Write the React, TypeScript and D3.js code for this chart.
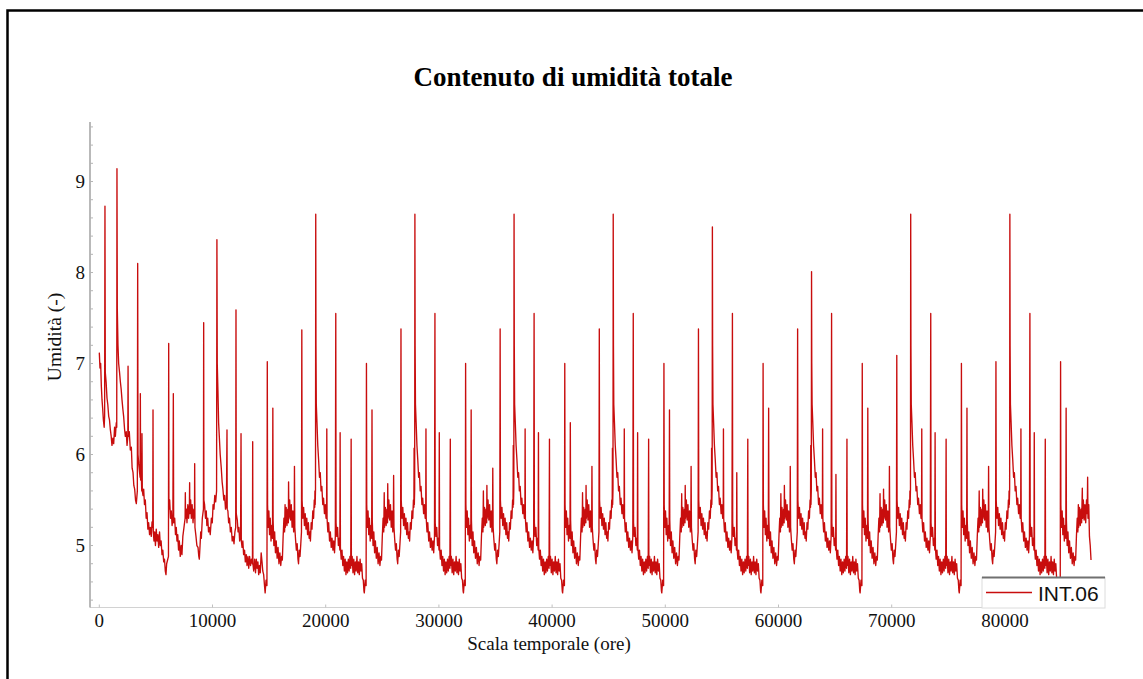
import React, { useMemo } from "react";
import * as d3 from "d3";

// ---- axis ticks ----
const xTickValues = [0, 10000, 20000, 30000, 40000, 50000, 60000, 70000, 80000];
const yTickValues = [5, 6, 7, 8, 9];

// ---- hour at which each yearly cycle begins (seasonal minimum) ----
const yearStarts = [14650, 23410, 32170, 40930, 49690, 58450, 67210, 75970, 84730];

// ---- initial drying stretch, absolute hours ----
const firstStretch: [number, number][] = [
  [0, 7.12], [60, 6.95], [120, 7.0], [180, 6.75], [240, 6.6], [300, 6.5], [360, 6.38], [430, 6.3], [470, 6.42], [500, 8.73],
  [530, 6.9], [600, 6.8], [680, 6.62], [750, 6.55], [830, 6.42], [900, 6.38], [970, 6.28], [1050, 6.2], [1120, 6.1], [1200, 6.18],
  [1270, 6.12], [1350, 6.3], [1420, 6.2], [1500, 6.35], [1540, 6.3], [1560, 9.14], [1590, 7.6], [1650, 7.2], [1710, 7.0], [1790, 6.9],
  [1860, 6.8], [1930, 6.72], [2005, 6.6], [2080, 6.5], [2150, 6.42], [2230, 6.28], [2300, 6.2], [2380, 6.25], [2450, 6.1], [2520, 6.2],
  [2540, 6.97], [2565, 6.2], [2650, 6.25], [2740, 6.05], [2830, 6.08], [2900, 5.85], [2980, 5.8], [3050, 5.66], [3125, 5.62], [3200, 5.5],
  [3270, 5.46], [3360, 5.6], [3390, 8.1], [3420, 6.0], [3480, 5.9], [3600, 5.75], [3625, 6.67], [3650, 5.72], [3715, 5.76], [3750, 5.6],
  [3770, 6.23], [3800, 5.6], [3860, 5.55], [3920, 5.62], [3990, 5.45], [4065, 5.5], [4140, 5.3], [4215, 5.36], [4290, 5.18], [4360, 5.25],
  [4440, 5.12], [4510, 5.2], [4590, 5.1], [4660, 5.26], [4720, 5.2], [4745, 6.49], [4770, 5.15], [4830, 5.05], [4890, 5.15], [4960, 5.0],
  [5030, 5.18], [5100, 5.05], [5170, 5.12], [5245, 4.98], [5320, 5.15], [5390, 5.0], [5460, 5.05], [5540, 4.9], [5610, 4.95], [5690, 4.82],
  [5760, 4.85], [5830, 4.72], [5890, 4.68], [5950, 4.8], [6110, 4.88], [6130, 7.22], [6150, 5.4], [6215, 5.5], [6290, 5.3], [6360, 5.38],
  [6430, 5.22], [6500, 5.3], [6540, 6.67], [6570, 5.25], [6660, 5.3], [6730, 5.12], [6800, 5.2], [6860, 5.05], [6930, 5.12], [7000, 4.95],
  [7070, 5.05], [7150, 4.88], [7230, 5.0], [7300, 4.9], [7380, 5.1], [7480, 5.2], [7580, 5.3], [7600, 5.58], [7620, 5.3], [7690, 5.4],
  [7745, 5.25], [7820, 5.45], [7890, 5.3], [7960, 5.45], [7980, 5.69], [8000, 5.35], [8070, 5.5], [8130, 5.3], [8200, 5.45], [8280, 5.25],
  [8350, 5.4], [8410, 5.3], [8425, 5.9], [8450, 5.2], [8540, 5.1], [8620, 5.0], [8720, 4.98], [8790, 4.88], [8835, 4.85], [8900, 5.0],
  [8960, 5.15], [9015, 5.08], [9100, 5.3], [9200, 5.4], [9220, 7.45], [9240, 5.5], [9300, 5.45], [9380, 5.3], [9450, 5.38], [9500, 5.22],
  [9580, 5.3], [9650, 5.15], [9720, 5.2], [9800, 5.12], [9900, 5.3], [9980, 5.25], [10050, 5.45], [10130, 5.4], [10200, 5.55], [10280, 5.48],
  [10360, 5.6], [10390, 8.36], [10420, 7.0], [10480, 6.7], [10540, 6.35], [10600, 6.2], [10680, 6.0], [10775, 5.85], [10850, 5.7], [10920, 5.62],
  [11000, 5.5], [11070, 5.55], [11150, 5.4], [11230, 5.45], [11280, 6.27], [11300, 5.4], [11360, 5.38], [11425, 5.25], [11500, 5.3], [11580, 5.15],
  [11660, 5.2], [11740, 5.05], [11820, 5.1], [11900, 5.02], [11980, 5.15], [12050, 5.2], [12075, 7.59], [12100, 5.35], [12190, 5.28], [12260, 5.15],
  [12330, 5.2], [12400, 5.05], [12480, 5.12], [12520, 6.23], [12545, 5.05], [12610, 4.98], [12680, 5.05], [12750, 4.9], [12830, 4.95], [12900, 4.82],
  [12980, 4.9], [13050, 4.78], [13130, 4.88], [13200, 4.75], [13280, 4.88], [13360, 4.78], [13440, 4.85], [13530, 4.8], [13550, 6.14], [13570, 4.8],
  [13640, 4.72], [13725, 4.85], [13800, 4.7], [13870, 4.85], [13940, 4.75], [14010, 4.82], [14080, 4.68], [14150, 4.78], [14220, 4.7], [14300, 4.92],
  [14375, 4.82], [14440, 4.72], [14520, 4.68], [14600, 4.55],
];

// ---- yearly cycles: [hours since cycle start, moisture] ----
const year1: [number, number][] = [
  [0, 4.48], [80, 4.62], [160, 4.56], [190, 7.02], [215, 5.45], [270, 5.2], [330, 5.38], [390, 5.12], [450, 5.3], [520, 5.05], [590, 5.22], [650, 5.08], [680, 6.51], [705, 5.28], [770, 5.0], [840, 5.15], [910, 4.92], [980, 5.05], [1060, 4.86], [1140, 4.98], [1220, 4.8], [1300, 4.92], [1380, 4.78], [1450, 4.88], [1520, 4.84], [1590, 5.1], [1660, 5.3], [1720, 5.15], [1760, 5.45], [1790, 5.2], [1860, 5.42], [1930, 5.22], [2000, 5.4], [2050, 5.25], [2070, 5.7], [2100, 5.3], [2170, 5.5], [2240, 5.28], [2310, 5.45], [2380, 5.2], [2450, 5.38], [2520, 5.15], [2570, 5.3], [2590, 5.87], [2620, 5.2], [2690, 5.06], [2760, 4.95], [2830, 5.02], [2900, 4.85], [2950, 4.8], [3010, 4.95], [3080, 4.88], [3150, 5.02], [3210, 5.15], [3240, 7.37], [3265, 5.5], [3330, 5.3], [3400, 5.42], [3470, 5.22], [3540, 5.35], [3610, 5.18], [3680, 5.3], [3750, 5.12], [3820, 5.25], [3890, 5.08], [3960, 5.15], [4000, 5.05], [4070, 5.25], [4140, 5.18], [4210, 5.38], [4280, 5.3], [4340, 5.5], [4380, 5.42], [4400, 5.6], [4420, 5.45], [4450, 5.62], [4470, 8.64], [4490, 7.2], [4520, 6.55], [4580, 6.35], [4650, 6.1], [4720, 5.95], [4800, 5.75], [4870, 5.8], [4940, 5.6], [5010, 5.65], [5090, 5.45], [5160, 5.52], [5240, 5.35], [5310, 5.45], [5380, 5.3], [5430, 5.42], [5447, 6.28], [5470, 5.3], [5540, 5.15], [5610, 5.25], [5690, 5.05], [5760, 5.15], [5840, 4.98], [5910, 5.08], [5990, 4.95], [6060, 5.05], [6130, 4.92], [6200, 5.1], [6240, 7.55], [6265, 5.25], [6330, 5.1], [6400, 5.2], [6470, 5.0], [6540, 5.08], [6600, 4.95], [6625, 6.24], [6650, 4.98], [6720, 4.85], [6790, 4.95], [6860, 4.78], [6930, 4.88], [7000, 4.72], [7070, 4.85], [7140, 4.68], [7210, 4.82], [7280, 4.7], [7350, 4.85], [7420, 4.72], [7490, 4.88], [7560, 4.75], [7598, 6.17], [7620, 4.78], [7690, 4.88], [7760, 4.7], [7830, 4.85], [7900, 4.68], [7970, 4.82], [8040, 4.72], [8110, 4.88], [8180, 4.7], [8250, 4.82], [8320, 4.68], [8390, 4.85], [8460, 4.72], [8530, 4.8], [8600, 4.64], [8670, 4.62], [8730, 4.5],
];
const year2: [number, number][] = [
  [0, 4.48], [80, 4.62], [160, 4.56], [190, 7.0], [215, 5.45], [270, 5.2], [330, 5.38], [390, 5.12], [450, 5.3], [520, 5.05], [590, 5.22], [650, 5.08], [680, 6.49], [705, 5.28], [770, 5.0], [840, 5.15], [910, 4.92], [980, 5.05], [1060, 4.86], [1140, 4.98], [1220, 4.8], [1300, 4.92], [1380, 4.78], [1450, 4.88], [1520, 4.84], [1590, 5.1], [1660, 5.3], [1720, 5.15], [1760, 5.58], [1790, 5.2], [1860, 5.42], [1930, 5.22], [2000, 5.4], [2050, 5.25], [2070, 5.68], [2100, 5.3], [2170, 5.5], [2240, 5.28], [2310, 5.45], [2380, 5.2], [2450, 5.38], [2520, 5.15], [2570, 5.3], [2590, 5.77], [2620, 5.2], [2690, 5.06], [2760, 4.95], [2830, 5.02], [2900, 4.85], [2950, 4.8], [3010, 4.95], [3080, 4.88], [3150, 5.02], [3210, 5.15], [3240, 7.38], [3265, 5.5], [3330, 5.3], [3400, 5.42], [3470, 5.22], [3540, 5.35], [3610, 5.18], [3680, 5.3], [3750, 5.12], [3820, 5.25], [3890, 5.08], [3960, 5.15], [4000, 5.05], [4070, 5.25], [4140, 5.18], [4210, 5.38], [4280, 5.3], [4340, 5.5], [4380, 5.42], [4400, 6.07], [4420, 5.45], [4450, 5.62], [4470, 8.64], [4490, 7.2], [4520, 6.55], [4580, 6.35], [4650, 6.1], [4720, 5.95], [4800, 5.75], [4870, 5.8], [4940, 5.6], [5010, 5.65], [5090, 5.45], [5160, 5.52], [5240, 5.35], [5310, 5.45], [5380, 5.3], [5430, 5.42], [5447, 6.28], [5470, 5.3], [5540, 5.15], [5610, 5.25], [5690, 5.05], [5760, 5.15], [5840, 4.98], [5910, 5.08], [5990, 4.95], [6060, 5.05], [6130, 4.92], [6200, 5.1], [6240, 7.55], [6265, 5.25], [6330, 5.1], [6400, 5.2], [6470, 5.0], [6540, 5.08], [6600, 4.95], [6625, 6.24], [6650, 4.98], [6720, 4.85], [6790, 4.95], [6860, 4.78], [6930, 4.88], [7000, 4.72], [7070, 4.85], [7140, 4.68], [7210, 4.82], [7280, 4.7], [7350, 4.85], [7420, 4.72], [7490, 4.88], [7560, 4.75], [7598, 6.17], [7620, 4.78], [7690, 4.88], [7760, 4.7], [7830, 4.85], [7900, 4.68], [7970, 4.82], [8040, 4.72], [8110, 4.88], [8180, 4.7], [8250, 4.82], [8320, 4.68], [8390, 4.85], [8460, 4.72], [8530, 4.8], [8600, 4.64], [8670, 4.62], [8730, 4.5],
];
const year3: [number, number][] = [
  [0, 4.48], [80, 4.62], [160, 4.56], [190, 7.0], [215, 5.45], [270, 5.2], [330, 5.38], [390, 5.12], [450, 5.3], [520, 5.05], [590, 5.22], [650, 5.08], [680, 6.49], [705, 5.28], [770, 5.0], [840, 5.15], [910, 4.92], [980, 5.05], [1060, 4.86], [1140, 4.98], [1220, 4.8], [1300, 4.92], [1380, 4.78], [1450, 4.88], [1520, 4.84], [1590, 5.1], [1660, 5.3], [1720, 5.15], [1760, 5.6], [1790, 5.2], [1860, 5.42], [1930, 5.22], [2000, 5.4], [2050, 5.25], [2070, 5.66], [2100, 5.3], [2170, 5.5], [2240, 5.28], [2310, 5.45], [2380, 5.2], [2450, 5.38], [2520, 5.15], [2570, 5.3], [2590, 5.85], [2620, 5.2], [2690, 5.06], [2760, 4.95], [2830, 5.02], [2900, 4.85], [2950, 4.8], [3010, 4.95], [3080, 4.88], [3150, 5.02], [3210, 5.15], [3240, 7.38], [3265, 5.5], [3330, 5.3], [3400, 5.42], [3470, 5.22], [3540, 5.35], [3610, 5.18], [3680, 5.3], [3750, 5.12], [3820, 5.25], [3890, 5.08], [3960, 5.15], [4000, 5.05], [4070, 5.25], [4140, 5.18], [4210, 5.38], [4280, 5.3], [4340, 5.5], [4380, 5.42], [4400, 6.1], [4420, 5.45], [4450, 5.62], [4470, 8.64], [4490, 7.2], [4520, 6.55], [4580, 6.35], [4650, 6.1], [4720, 5.95], [4800, 5.75], [4870, 5.8], [4940, 5.6], [5010, 5.65], [5090, 5.45], [5160, 5.52], [5240, 5.35], [5310, 5.45], [5380, 5.3], [5430, 5.42], [5447, 6.28], [5470, 5.3], [5540, 5.15], [5610, 5.25], [5690, 5.05], [5760, 5.15], [5840, 4.98], [5910, 5.08], [5990, 4.95], [6060, 5.05], [6130, 4.92], [6200, 5.1], [6240, 7.55], [6265, 5.25], [6330, 5.1], [6400, 5.2], [6470, 5.0], [6540, 5.08], [6600, 4.95], [6625, 6.24], [6650, 4.98], [6720, 4.85], [6790, 4.95], [6860, 4.78], [6930, 4.88], [7000, 4.72], [7070, 4.85], [7140, 4.68], [7210, 4.82], [7280, 4.7], [7350, 4.85], [7420, 4.72], [7490, 4.88], [7560, 4.75], [7598, 6.17], [7620, 4.78], [7690, 4.88], [7760, 4.7], [7830, 4.85], [7900, 4.68], [7970, 4.82], [8040, 4.72], [8110, 4.88], [8180, 4.7], [8250, 4.82], [8320, 4.68], [8390, 4.85], [8460, 4.72], [8530, 4.8], [8600, 4.64], [8670, 4.62], [8730, 4.5],
];
const year4: [number, number][] = [
  [0, 4.48], [80, 4.62], [160, 4.56], [190, 7.0], [215, 5.45], [270, 5.2], [330, 5.38], [390, 5.12], [450, 5.3], [520, 5.05], [590, 5.22], [650, 5.08], [680, 6.35], [705, 5.28], [770, 5.0], [840, 5.15], [910, 4.92], [980, 5.05], [1060, 4.86], [1140, 4.98], [1220, 4.8], [1300, 4.92], [1380, 4.78], [1450, 4.88], [1520, 4.84], [1590, 5.1], [1660, 5.3], [1720, 5.15], [1760, 5.58], [1790, 5.2], [1860, 5.42], [1930, 5.22], [2000, 5.4], [2050, 5.25], [2070, 5.66], [2100, 5.3], [2170, 5.5], [2240, 5.28], [2310, 5.45], [2380, 5.2], [2450, 5.38], [2520, 5.15], [2570, 5.3], [2590, 5.87], [2620, 5.2], [2690, 5.06], [2760, 4.95], [2830, 5.02], [2900, 4.85], [2950, 4.8], [3010, 4.95], [3080, 4.88], [3150, 5.02], [3210, 5.15], [3240, 7.38], [3265, 5.5], [3330, 5.3], [3400, 5.42], [3470, 5.22], [3540, 5.35], [3610, 5.18], [3680, 5.3], [3750, 5.12], [3820, 5.25], [3890, 5.08], [3960, 5.15], [4000, 5.05], [4070, 5.25], [4140, 5.18], [4210, 5.38], [4280, 5.3], [4340, 5.5], [4380, 5.42], [4400, 6.07], [4420, 5.45], [4450, 5.62], [4470, 8.64], [4490, 7.2], [4520, 6.55], [4580, 6.35], [4650, 6.1], [4720, 5.95], [4800, 5.75], [4870, 5.8], [4940, 5.6], [5010, 5.65], [5090, 5.45], [5160, 5.52], [5240, 5.35], [5310, 5.45], [5380, 5.3], [5430, 5.42], [5447, 6.28], [5470, 5.3], [5540, 5.15], [5610, 5.25], [5690, 5.05], [5760, 5.15], [5840, 4.98], [5910, 5.08], [5990, 4.95], [6060, 5.05], [6130, 4.92], [6200, 5.1], [6240, 7.55], [6265, 5.25], [6330, 5.1], [6400, 5.2], [6470, 5.0], [6540, 5.08], [6600, 4.95], [6625, 6.24], [6650, 4.98], [6720, 4.85], [6790, 4.95], [6860, 4.78], [6930, 4.88], [7000, 4.72], [7070, 4.85], [7140, 4.68], [7210, 4.82], [7280, 4.7], [7350, 4.85], [7420, 4.72], [7490, 4.88], [7560, 4.75], [7598, 6.17], [7620, 4.78], [7690, 4.88], [7760, 4.7], [7830, 4.85], [7900, 4.68], [7970, 4.82], [8040, 4.72], [8110, 4.88], [8180, 4.7], [8250, 4.82], [8320, 4.68], [8390, 4.85], [8460, 4.72], [8530, 4.8], [8600, 4.64], [8670, 4.62], [8730, 4.5],
];
const year5: [number, number][] = [
  [0, 4.48], [80, 4.62], [160, 4.56], [190, 7.0], [215, 5.45], [270, 5.2], [330, 5.38], [390, 5.12], [450, 5.3], [520, 5.05], [590, 5.22], [650, 5.08], [680, 6.49], [705, 5.28], [770, 5.0], [840, 5.15], [910, 4.92], [980, 5.05], [1060, 4.86], [1140, 4.98], [1220, 4.8], [1300, 4.92], [1380, 4.78], [1450, 4.88], [1520, 4.84], [1590, 5.1], [1660, 5.3], [1720, 5.15], [1760, 5.57], [1790, 5.2], [1860, 5.42], [1930, 5.22], [2000, 5.4], [2050, 5.25], [2070, 5.66], [2100, 5.3], [2170, 5.5], [2240, 5.28], [2310, 5.45], [2380, 5.2], [2450, 5.38], [2520, 5.15], [2570, 5.3], [2590, 5.87], [2620, 5.2], [2690, 5.06], [2760, 4.95], [2830, 5.02], [2900, 4.85], [2950, 4.8], [3010, 4.95], [3080, 4.88], [3150, 5.02], [3210, 5.15], [3240, 7.38], [3265, 5.5], [3330, 5.3], [3400, 5.42], [3470, 5.22], [3540, 5.35], [3610, 5.18], [3680, 5.3], [3750, 5.12], [3820, 5.25], [3890, 5.08], [3960, 5.15], [4000, 5.05], [4070, 5.25], [4140, 5.18], [4210, 5.38], [4280, 5.3], [4340, 5.5], [4380, 5.42], [4400, 6.07], [4420, 5.45], [4450, 5.62], [4470, 8.5], [4490, 7.2], [4520, 6.55], [4580, 6.35], [4650, 6.1], [4720, 5.95], [4800, 5.75], [4870, 5.8], [4940, 5.6], [5010, 5.65], [5090, 5.45], [5160, 5.52], [5240, 5.35], [5310, 5.45], [5380, 5.3], [5430, 5.42], [5447, 6.28], [5470, 5.3], [5540, 5.15], [5610, 5.25], [5690, 5.05], [5760, 5.15], [5840, 4.98], [5910, 5.08], [5990, 4.95], [6060, 5.05], [6130, 4.92], [6200, 5.1], [6240, 7.55], [6265, 5.25], [6330, 5.1], [6400, 5.2], [6470, 5.0], [6540, 5.08], [6600, 4.95], [6625, 5.8], [6650, 4.98], [6720, 4.85], [6790, 4.95], [6860, 4.78], [6930, 4.88], [7000, 4.72], [7070, 4.85], [7140, 4.68], [7210, 4.82], [7280, 4.7], [7350, 4.85], [7420, 4.72], [7490, 4.88], [7560, 4.75], [7598, 6.17], [7620, 4.78], [7690, 4.88], [7760, 4.7], [7830, 4.85], [7900, 4.68], [7970, 4.82], [8040, 4.72], [8110, 4.88], [8180, 4.7], [8250, 4.82], [8320, 4.68], [8390, 4.85], [8460, 4.72], [8530, 4.8], [8600, 4.64], [8670, 4.62], [8730, 4.5],
];
const year6: [number, number][] = [
  [0, 4.48], [80, 4.62], [160, 4.56], [190, 7.0], [215, 5.45], [270, 5.2], [330, 5.38], [390, 5.12], [450, 5.3], [520, 5.05], [590, 5.22], [650, 5.08], [680, 6.51], [705, 5.28], [770, 5.0], [840, 5.15], [910, 4.92], [980, 5.05], [1060, 4.86], [1140, 4.98], [1220, 4.8], [1300, 4.92], [1380, 4.78], [1450, 4.88], [1520, 4.84], [1590, 5.1], [1660, 5.3], [1720, 5.15], [1760, 5.57], [1790, 5.2], [1860, 5.42], [1930, 5.22], [2000, 5.4], [2050, 5.25], [2070, 5.66], [2100, 5.3], [2170, 5.5], [2240, 5.28], [2310, 5.45], [2380, 5.2], [2450, 5.38], [2520, 5.15], [2570, 5.3], [2590, 5.87], [2620, 5.2], [2690, 5.06], [2760, 4.95], [2830, 5.02], [2900, 4.85], [2950, 4.8], [3010, 4.95], [3080, 4.88], [3150, 5.02], [3210, 5.15], [3240, 7.38], [3265, 5.5], [3330, 5.3], [3400, 5.42], [3470, 5.22], [3540, 5.35], [3610, 5.18], [3680, 5.3], [3750, 5.12], [3820, 5.25], [3890, 5.08], [3960, 5.15], [4000, 5.05], [4070, 5.25], [4140, 5.18], [4210, 5.38], [4280, 5.3], [4340, 5.5], [4380, 5.42], [4400, 6.1], [4420, 5.45], [4450, 5.62], [4470, 8.01], [4490, 7.0], [4520, 6.55], [4580, 6.35], [4650, 6.1], [4720, 5.95], [4800, 5.75], [4870, 5.8], [4940, 5.6], [5010, 5.65], [5090, 5.45], [5160, 5.52], [5240, 5.35], [5310, 5.45], [5380, 5.3], [5430, 5.42], [5447, 6.28], [5470, 5.3], [5540, 5.15], [5610, 5.25], [5690, 5.05], [5760, 5.15], [5840, 4.98], [5910, 5.08], [5990, 4.95], [6060, 5.05], [6130, 4.92], [6200, 5.1], [6240, 7.55], [6265, 5.25], [6330, 5.1], [6400, 5.2], [6470, 5.0], [6540, 5.08], [6600, 4.95], [6625, 5.78], [6650, 4.98], [6720, 4.85], [6790, 4.95], [6860, 4.78], [6930, 4.88], [7000, 4.72], [7070, 4.85], [7140, 4.68], [7210, 4.82], [7280, 4.7], [7350, 4.85], [7420, 4.72], [7490, 4.88], [7560, 4.75], [7598, 6.17], [7620, 4.78], [7690, 4.88], [7760, 4.7], [7830, 4.85], [7900, 4.68], [7970, 4.82], [8040, 4.72], [8110, 4.88], [8180, 4.7], [8250, 4.82], [8320, 4.68], [8390, 4.85], [8460, 4.72], [8530, 4.8], [8600, 4.64], [8670, 4.62], [8730, 4.5],
];
const year7: [number, number][] = [
  [0, 4.48], [80, 4.62], [160, 4.56], [190, 7.0], [215, 5.45], [270, 5.2], [330, 5.38], [390, 5.12], [450, 5.3], [520, 5.05], [590, 5.22], [650, 5.08], [680, 6.51], [705, 5.28], [770, 5.0], [840, 5.15], [910, 4.92], [980, 5.05], [1060, 4.86], [1140, 4.98], [1220, 4.8], [1300, 4.92], [1380, 4.78], [1450, 4.88], [1520, 4.84], [1590, 5.1], [1660, 5.3], [1720, 5.15], [1760, 5.57], [1790, 5.2], [1860, 5.42], [1930, 5.22], [2000, 5.4], [2050, 5.25], [2070, 5.62], [2100, 5.3], [2170, 5.5], [2240, 5.28], [2310, 5.45], [2380, 5.2], [2450, 5.38], [2520, 5.15], [2570, 5.3], [2590, 5.87], [2620, 5.2], [2690, 5.06], [2760, 4.95], [2830, 5.02], [2900, 4.85], [2950, 4.8], [3010, 4.95], [3080, 4.88], [3150, 5.02], [3210, 5.15], [3240, 7.09], [3265, 5.5], [3330, 5.3], [3400, 5.42], [3470, 5.22], [3540, 5.35], [3610, 5.18], [3680, 5.3], [3750, 5.12], [3820, 5.25], [3890, 5.08], [3960, 5.15], [4000, 5.05], [4070, 5.25], [4140, 5.18], [4210, 5.38], [4280, 5.3], [4340, 5.5], [4380, 5.42], [4400, 5.6], [4420, 5.45], [4450, 5.62], [4470, 8.64], [4490, 7.2], [4520, 6.55], [4580, 6.35], [4650, 6.1], [4720, 5.95], [4800, 5.75], [4870, 5.8], [4940, 5.6], [5010, 5.65], [5090, 5.45], [5160, 5.52], [5240, 5.35], [5310, 5.45], [5380, 5.3], [5430, 5.42], [5447, 6.28], [5470, 5.3], [5540, 5.15], [5610, 5.25], [5690, 5.05], [5760, 5.15], [5840, 4.98], [5910, 5.08], [5990, 4.95], [6060, 5.05], [6130, 4.92], [6200, 5.1], [6240, 7.55], [6265, 5.25], [6330, 5.1], [6400, 5.2], [6470, 5.0], [6540, 5.08], [6600, 4.95], [6625, 6.24], [6650, 4.98], [6720, 4.85], [6790, 4.95], [6860, 4.78], [6930, 4.88], [7000, 4.72], [7070, 4.85], [7140, 4.68], [7210, 4.82], [7280, 4.7], [7350, 4.85], [7420, 4.72], [7490, 4.88], [7560, 4.75], [7598, 6.17], [7620, 4.78], [7690, 4.88], [7760, 4.7], [7830, 4.85], [7900, 4.68], [7970, 4.82], [8040, 4.72], [8110, 4.88], [8180, 4.7], [8250, 4.82], [8320, 4.68], [8390, 4.85], [8460, 4.72], [8530, 4.8], [8600, 4.64], [8670, 4.62], [8730, 4.5],
];
const year8: [number, number][] = [
  [0, 4.48], [80, 4.62], [160, 4.56], [190, 7.0], [215, 5.45], [270, 5.2], [330, 5.38], [390, 5.12], [450, 5.3], [520, 5.05], [590, 5.22], [650, 5.08], [680, 6.51], [705, 5.28], [770, 5.0], [840, 5.15], [910, 4.92], [980, 5.05], [1060, 4.86], [1140, 4.98], [1220, 4.8], [1300, 4.92], [1380, 4.78], [1450, 4.88], [1520, 4.84], [1590, 5.1], [1660, 5.3], [1720, 5.15], [1760, 5.6], [1790, 5.2], [1860, 5.42], [1930, 5.22], [2000, 5.4], [2050, 5.25], [2070, 5.62], [2100, 5.3], [2170, 5.5], [2240, 5.28], [2310, 5.45], [2380, 5.2], [2450, 5.38], [2520, 5.15], [2570, 5.3], [2590, 5.87], [2620, 5.2], [2690, 5.06], [2760, 4.95], [2830, 5.02], [2900, 4.85], [2950, 4.8], [3010, 4.95], [3080, 4.88], [3150, 5.02], [3210, 5.15], [3240, 7.02], [3265, 5.5], [3330, 5.3], [3400, 5.42], [3470, 5.22], [3540, 5.35], [3610, 5.18], [3680, 5.3], [3750, 5.12], [3820, 5.25], [3890, 5.08], [3960, 5.15], [4000, 5.05], [4070, 5.25], [4140, 5.18], [4210, 5.38], [4280, 5.3], [4340, 5.5], [4380, 5.42], [4400, 5.6], [4420, 5.45], [4450, 5.62], [4470, 8.64], [4490, 7.2], [4520, 6.55], [4580, 6.35], [4650, 6.1], [4720, 5.95], [4800, 5.75], [4870, 5.8], [4940, 5.6], [5010, 5.65], [5090, 5.45], [5160, 5.52], [5240, 5.35], [5310, 5.45], [5380, 5.3], [5430, 5.42], [5447, 6.28], [5470, 5.3], [5540, 5.15], [5610, 5.25], [5690, 5.05], [5760, 5.15], [5840, 4.98], [5910, 5.08], [5990, 4.95], [6060, 5.05], [6130, 4.92], [6200, 5.1], [6240, 7.55], [6265, 5.25], [6330, 5.1], [6400, 5.2], [6470, 5.0], [6540, 5.08], [6600, 4.95], [6625, 6.24], [6650, 4.98], [6720, 4.85], [6790, 4.95], [6860, 4.78], [6930, 4.88], [7000, 4.72], [7070, 4.85], [7140, 4.68], [7210, 4.82], [7280, 4.7], [7350, 4.85], [7420, 4.72], [7490, 4.88], [7560, 4.75], [7598, 6.17], [7620, 4.78], [7690, 4.88], [7760, 4.7], [7830, 4.85], [7900, 4.68], [7970, 4.82], [8040, 4.72], [8110, 4.88], [8180, 4.7], [8250, 4.82], [8320, 4.68], [8390, 4.85], [8460, 4.72], [8530, 4.8], [8600, 4.64], [8670, 4.62], [8730, 4.5],
];
const year9: [number, number][] = [
  [0, 4.48], [80, 4.62], [160, 4.56], [190, 7.02], [215, 5.45], [270, 5.2], [330, 5.38], [390, 5.12], [450, 5.3], [520, 5.05], [590, 5.22], [650, 5.08], [680, 6.51], [705, 5.28], [770, 5.0], [840, 5.15], [910, 4.92], [980, 5.05], [1060, 4.86], [1140, 4.98], [1220, 4.8], [1300, 4.92], [1380, 4.78], [1450, 4.88], [1520, 4.84], [1590, 5.1], [1660, 5.3], [1720, 5.15], [1760, 5.45], [1790, 5.2], [1860, 5.42], [1930, 5.22], [2000, 5.4], [2050, 5.25], [2110, 5.63], [2140, 5.3], [2200, 5.5], [2270, 5.28], [2340, 5.45], [2410, 5.25], [2480, 5.5], [2540, 5.35], [2580, 5.75], [2610, 5.3], [2680, 5.45], [2740, 5.1], [2810, 5.0], [2880, 4.84],
];

const cycles = [year1, year2, year3, year4, year5, year6, year7, year8, year9];

const W = 1143;
const H = 679;
const SERIF = "'Liberation Serif', 'Times New Roman', serif";
const SANS = "'Liberation Sans', Arial, sans-serif";
const LINE_COLOR = "#c80d0d";

export default function App() {
  const series = useMemo(() => {
    const pts: [number, number][] = firstStretch.slice();
    cycles.forEach((cycle, i) => {
      cycle.forEach(([h, v]) => pts.push([yearStarts[i] + h, v]));
    });
    return pts;
  }, []);

  const x = d3.scaleLinear().domain([-822, 88844]).range([90, 1105]);
  const y = d3.scaleLinear().domain([4.319, 9.654]).range([607.5, 122]);

  const linePath = d3
    .line<[number, number]>()
    .x((d) => x(d[0]))
    .y((d) => y(d[1]))(series);

  const [x0, x1] = x.range();
  const [yb, yt] = y.range();
  const minorY = d3.range(4.4, 9.61, 0.2);

  return (
    <svg
      width={W}
      height={H}
      viewBox={`0 0 ${W} ${H}`}
      style={{ position: "absolute", left: 0, top: 0, background: "#fff" }}
    >
      <rect x={0} y={0} width={W} height={H} fill="#fff" />
      <rect x={7.5} y={10.5} width={1160} height={700} fill="none" stroke="#000" strokeWidth={2.5} />

      <text x={573} y={86} textAnchor="middle" fontFamily={SERIF} fontWeight="bold" fontSize={27} fill="#000">
        Contenuto di umidità totale
      </text>

      {/* axes */}
      <line x1={x0} x2={x1} y1={yb} y2={yb} stroke="#d2d2d2" strokeWidth={1} />
      <line x1={x0} x2={x0} y1={yb} y2={yt} stroke="#a8a8a8" strokeWidth={1.6} />
      {minorY.map((v) => (
        <line key={`my${v.toFixed(1)}`} x1={x0} x2={x0 + 3} y1={y(v)} y2={y(v)} stroke="#b5b5b5" strokeWidth={1} />
      ))}
      {xTickValues.map((t) => (
        <g key={`xt${t}`}>
          <line x1={x(t)} x2={x(t)} y1={yb} y2={yb - 3} stroke="#c0c0c0" strokeWidth={1} />
          <text x={x(t)} y={627} textAnchor="middle" fontFamily={SERIF} fontSize={19} fill="#111">
            {t}
          </text>
        </g>
      ))}
      {yTickValues.map((t) => (
        <text key={`yt${t}`} x={85} y={y(t)} dy="0.35em" textAnchor="end" fontFamily={SERIF} fontSize={19} fill="#111">
          {t}
        </text>
      ))}

      <text x={549} y={650} textAnchor="middle" fontFamily={SERIF} fontSize={19} fill="#111">
        Scala temporale (ore)
      </text>
      <text
        transform="translate(61,337) rotate(-90)"
        textAnchor="middle"
        fontFamily={SERIF}
        fontSize={19.5}
        fill="#111"
      >
        Umidità (-)
      </text>

      {/* series */}
      <path d={linePath || ""} fill="none" stroke={LINE_COLOR} strokeWidth={1.35} strokeLinejoin="round" />

      {/* legend */}
      <g>
        <rect x={982} y={577.5} width={123} height={30.5} fill="#fff" stroke="#dcdcdc" strokeWidth={1} />
        <line x1={982} x2={1105} y1={577.5} y2={577.5} stroke="#707070" strokeWidth={2} />
        <line x1={986} x2={1032} y1={592.5} y2={592.5} stroke={LINE_COLOR} strokeWidth={1.3} />
        <text x={1038} y={600.5} fontFamily={SANS} fontSize={21} fill="#111">
          INT.06
        </text>
      </g>
    </svg>
  );
}
